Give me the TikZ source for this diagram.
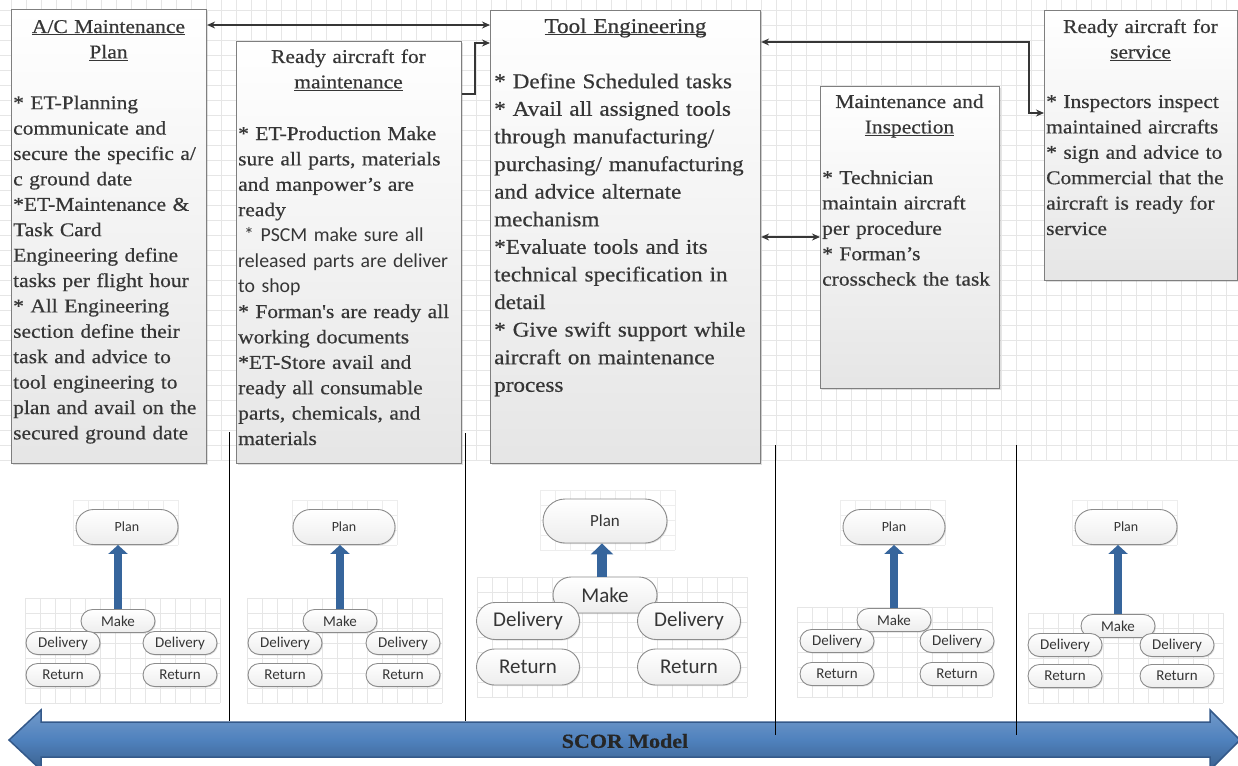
\documentclass[tikz,border=0pt]{standalone}
\usepackage{fontspec}
\usetikzlibrary{arrows.meta,shapes.misc,shadows}
\newfontfamily\srf[FakeStretch=1.1,FakeBold=0.5]{Liberation Serif}
\newfontfamily\sns{Carlito}
\definecolor{ink}{HTML}{363636}
\definecolor{edge}{HTML}{7F7F7F}
\definecolor{gridc}{HTML}{E6E6E6}
\definecolor{gridf}{HTML}{EDEDED}
\definecolor{pillc}{HTML}{8C8C8C}
\definecolor{steel}{HTML}{36659C}
\definecolor{scorfill}{HTML}{4F81BD}
\definecolor{scoredge}{HTML}{34598A}
\newcommand\ttlu[1]{\underline{\smash{#1}}}
\newcommand\psz{\fontsize{19.5}{25.4}\selectfont}
\newcommand\tsz{\fontsize{21}{27.6}\selectfont}
% faint square grid: origin, number of columns and rows (15pt cells), line style
\newcommand\gridpatch[5][gridline]{%
  \foreach \k in {0,...,#4} \draw[#1] ({#2+15*\k},#3) -- ({#2+15*\k},{#3+15*#5});
  \foreach \k in {0,...,#5} \draw[#1] (#2,{#3+15*\k}) -- ({#2+15*#4},{#3+15*\k});}
\begin{document}
\begin{tikzpicture}[x=1pt,y=-1pt,
  gridline/.style={draw=gridc,line width=0.6pt},
  gridfaint/.style={draw=gridf,line width=0.6pt},
  card/.style={draw=edge,line width=1.1pt,top color=white,bottom color=gray!20,
    anchor=north west,inner sep=0pt,
    drop shadow={shadow xshift=1.5pt,shadow yshift=-1.5pt,opacity=0.25}},
  ttltxt/.style={anchor=base,align=center,inner sep=0pt,text=ink,font=\srf\psz},
  bodytxt/.style={anchor=base west,align=left,inner sep=0pt,text width=320pt,text=ink,font=\srf\psz},
  link/.style={draw=ink,line width=1.4pt},
  onehead/.style={-{Stealth[length=8pt,width=7pt]}},
  twoheads/.style={{Stealth[length=8pt,width=7pt]}-{Stealth[length=8pt,width=7pt]}},
  pill/.style={rounded rectangle,draw=pillc,line width=0.9pt,top color=white,bottom color=gray!14,
    text=ink,inner sep=0pt,drop shadow={shadow xshift=1pt,shadow yshift=-1pt,opacity=0.25}},
  pillsm/.style={pill,minimum width=74pt,minimum height=23pt,font=\sns\fontsize{15}{18}\selectfont},
  plansm/.style={pill,minimum width=102pt,minimum height=35pt,font=\sns\fontsize{14}{17}\selectfont},
  pilllg/.style={pill,minimum width=103pt,minimum height=37pt,font=\sns\fontsize{21}{25}\selectfont},
  planlg/.style={pill,minimum width=124pt,minimum height=44pt,font=\sns\fontsize{17}{20}\selectfont},
  upbar/.style={draw=steel,line width=8pt,-{Triangle[length=9pt,width=19pt]}},
  upbarlg/.style={draw=steel,line width=10pt,-{Triangle[length=11pt,width=22pt]}},
  divider/.style={draw=black,line width=1pt}
]
\useasboundingbox (0,0) rectangle (1238,765);
\clip (0,0) rectangle (1238,765);

% background grid behind the process cards
\gridpatch{-3.3}{-5}{83}{31}

% process cards
\node[card,minimum width=195pt,minimum height=454pt] (b1) at (11,9) {};
\node[card,minimum width=225pt,minimum height=422pt] (b2) at (236,41) {};
\node[card,minimum width=270pt,minimum height=453pt] (b3) at (490,10) {};
\node[card,minimum width=179pt,minimum height=302pt] (b4) at (820,86) {};
\node[card,minimum width=193pt,minimum height=270pt] (b5) at (1044,10) {};

% card texts
\node[ttltxt,text width=190pt] (t1) at (108.5,33) {\ttlu{A/C Maintenance}\\\ttlu{Plan}};
\node[bodytxt] (x1) at (13,109.2) {* ET-Planning\\
communicate and\\
secure the specific a/\\
c ground date\\
{*}ET-Maintenance \&\\
Task Card\\
Engineering define\\
tasks per flight hour\\
{*} All Engineering\\
section define their\\
task and advice to\\
tool engineering to\\
plan and avail on the\\
secured ground date};

\node[ttltxt,text width=220pt] (t2) at (348.5,63) {Ready aircraft for\\\ttlu{maintenance}};
\node[bodytxt] (x2) at (238,140) {* ET-Production Make\\
sure all parts, materials\\
and manpower’s are\\
ready\\
{\sns\fontsize{19.8}{25.5}\selectfont\hspace*{6pt}{*} PSCM make sure all\\
released parts are deliver\\
to shop}\\
{*} Forman's are ready all\\
working documents\\
{*}ET-Store avail and\\
ready all consumable\\
parts, chemicals, and\\
materials};

\node[ttltxt,text width=265pt,font=\srf\tsz] (t3) at (625.5,33) {\ttlu{Tool Engineering}};
\node[bodytxt,font=\srf\tsz] (x3) at (494,88.2) {* Define Scheduled tasks\\
{*} Avail all assigned tools\\
through manufacturing/\\
purchasing/ manufacturing\\
and advice alternate\\
mechanism\\
{*}Evaluate tools and its\\
technical specification in\\
detail\\
{*} Give swift support while\\
aircraft on maintenance\\
process};

\node[ttltxt,text width=175pt] (t4) at (909.5,108) {Maintenance and\\\ttlu{Inspection}};
\node[bodytxt] (x4) at (822,184) {* Technician\\
maintain aircraft\\
per procedure\\
{*} Forman’s\\
crosscheck the task};

\node[ttltxt,text width=190pt] (t5) at (1140.5,33) {Ready aircraft for\\\ttlu{service}};
\node[bodytxt] (x5) at (1046,108) {* Inspectors inspect\\
maintained aircrafts\\
{*} sign and advice to\\
Commercial that the\\
aircraft is ready for\\
service};

% links between the cards
\draw[link,twoheads] (b1.east |- 0,25) -- (b3.west |- 0,25);
\draw[link,onehead] (b2.east |- 0,94) -| (475,43) -- (b3.west |- 0,43);
\draw[link,twoheads] (b3.east |- 0,42) -| (1029,113) -- (b5.west |- 0,113);
\draw[link,twoheads] (b3.east |- 0,237) -- (b4.west |- 0,237);

% SCOR stacks: grids
\gridpatch{25}{598}{13}{7}
\gridpatch[gridfaint]{73}{500}{7}{3}
\gridpatch{247}{598}{13}{7}
\gridpatch[gridfaint]{292}{500}{7}{3}
\gridpatch{477}{577}{18}{8}
\gridpatch[gridfaint]{540}{490}{9}{4}
\gridpatch{797}{607}{13}{6}
\gridpatch[gridfaint]{840}{500}{7}{3}
\gridpatch{1028}{613}{13}{6}
\gridpatch[gridfaint]{1072}{500}{7}{3}

% stack 1
\node[plansm] (p1) at (127,527) {Plan};
\node[pillsm] (m1) at (118,621) {Make};
\node[pillsm] (dl1) at (63,643) {Delivery};
\node[pillsm] (dr1) at (180,643) {Delivery};
\node[pillsm] (rl1) at (63,675) {Return};
\node[pillsm] (rr1) at (180,675) {Return};
\draw[upbar] (m1.north) -- (m1.north |- p1.south);

% stack 2
\node[plansm] (p2) at (344,527) {Plan};
\node[pillsm] (m2) at (340,621) {Make};
\node[pillsm] (dl2) at (285,643) {Delivery};
\node[pillsm] (dr2) at (403,643) {Delivery};
\node[pillsm] (rl2) at (285,675) {Return};
\node[pillsm] (rr2) at (403,675) {Return};
\draw[upbar] (m2.north) -- (m2.north |- p2.south);

% stack 3
\node[planlg] (p3) at (605,521) {Plan};
\node[pilllg,minimum width=104pt,minimum height=36pt] (m3) at (605,595) {Make};
\node[pilllg] (dl3) at (528,621) {Delivery};
\node[pilllg] (dr3) at (689,621) {Delivery};
\node[pilllg,minimum height=36pt] (rl3) at (528,667) {Return};
\node[pilllg,minimum height=36pt] (rr3) at (689,667) {Return};
\draw[upbarlg] (m3.north -| 602,0) -- (p3.south -| 602,0);

% stack 4
\node[plansm] (p4) at (894,527) {Plan};
\node[pillsm] (m4) at (894,620) {Make};
\node[pillsm] (dl4) at (837,641) {Delivery};
\node[pillsm] (dr4) at (957,641) {Delivery};
\node[pillsm] (rl4) at (837,674) {Return};
\node[pillsm] (rr4) at (957,674) {Return};
\draw[upbar] (m4.north) -- (m4.north |- p4.south);

% stack 5
\node[plansm] (p5) at (1126,527) {Plan};
\node[pillsm] (m5) at (1118,626) {Make};
\node[pillsm] (dl5) at (1065,645) {Delivery};
\node[pillsm] (dr5) at (1177,645) {Delivery};
\node[pillsm] (rl5) at (1065,676) {Return};
\node[pillsm] (rr5) at (1177,676) {Return};
\draw[upbar] (m5.north) -- (m5.north |- p5.south);

% SCOR model band
\draw[draw=scoredge,line width=1.5pt,top color=scorfill!80!white,bottom color=scorfill!75!black,middle color=scorfill]
  (9,740) -- (41,710) -- (41,722) -- (1210,722) -- (1210,710) -- (1240,740)
  -- (1210,770) -- (1210,757) -- (41,757) -- (41,770) -- cycle;
\node[font=\srf\bfseries\fontsize{20}{24}\selectfont,text=black!85,inner sep=0pt] (scor) at (625,741) {SCOR Model};

% column dividers
\draw[divider] (229,432) -- (229,721);
\draw[divider] (465,433) -- (465,721);
\draw[divider] (775,445) -- (775,735);
\draw[divider] (1016,445) -- (1016,735);
\end{tikzpicture}
\end{document}
